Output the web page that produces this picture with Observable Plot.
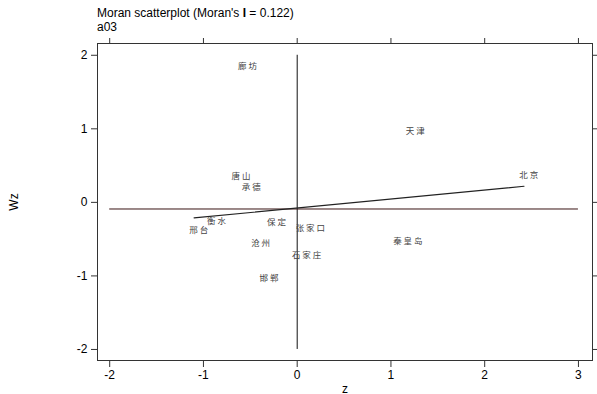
<!DOCTYPE html>
<html><head><meta charset="utf-8">
<script src="https://cdn.jsdelivr.net/npm/d3@7"></script>
<script src="https://cdn.jsdelivr.net/npm/@observablehq/plot@0.6"></script>
<style>
body{margin:0;background:#fff;}
#wrap{position:relative;width:597px;height:394px;font-family:"Liberation Sans",Arial,sans-serif;}
#title{position:absolute;left:97px;top:6px;font-size:12px;line-height:14px;color:#000;}
</style></head>
<body><div id="wrap"><div id="title">Moran scatterplot (Moran's <b>I</b> = 0.122)<br>a03</div></div>
<script>
const cities = ["廊坊","天津","北京","唐山","承德","衡水","邢台","保定","张家口","沧州","石家庄","邯郸","秦皇岛"];
const zVals  = [-0.53, 1.26, 2.47, -0.60, -0.49, -0.86, -1.05, -0.22, 0.14, -0.39, 0.10, -0.30, 1.18];
const wzVals = [1.85, 0.97, 0.37, 0.35, 0.21, -0.26, -0.38, -0.27, -0.35, -0.56, -0.72, -1.03, -0.53];
const moranI = 0.122;
const intercept = -0.077;
const meanWz = -0.09;
const lineX = [-1.10, 2.42];
const xTicks = [-2,-1,0,1,2,3];
const yTicks = [-2,-1,0,1,2];

const pts = cities.map((c,i)=>({name:c, z:zVals[i], wz:wzVals[i]}));
const reg = lineX.map(x=>({x, y: intercept + moranI*x}));

const chart = Plot.plot({
  width:597, height:394,
  marginLeft:97, marginRight:5, marginTop:43, marginBottom:34,
  style:{fontFamily:"'Liberation Sans', Arial, sans-serif", fontSize:"12px", color:"#000", background:"#fff"},
  x:{domain:[-2.13,3.15]},
  y:{domain:[-2.15,2.16]},
  marks:[
    Plot.frame({stroke:"#333"}),
    Plot.axisX({anchor:"bottom", ticks:xTicks, tickSize:7, tickPadding:3, tickFormat:d=>String(d), label:"z", labelAnchor:"center", labelArrow:"none", labelOffset:32, fontSize:12, stroke:"#333"}),
    Plot.axisX({anchor:"top", ticks:xTicks, tickSize:6, tickFormat:()=>"", label:null, stroke:"#333"}),
    Plot.axisY({anchor:"left", ticks:yTicks, tickSize:6, tickPadding:4, tickFormat:d=>String(d), label:"Wz", labelAnchor:"center", labelArrow:"none", labelOffset:88, fontSize:12, stroke:"#333"}),
    Plot.axisY({anchor:"right", ticks:yTicks, tickSize:6, tickFormat:()=>"", label:null, stroke:"#333"}),
    Plot.ruleX([0], {y1:-2, y2:2, stroke:"#111", strokeWidth:1}),
    Plot.ruleY([meanWz], {x1:-2, x2:3, stroke:"#3a1414", strokeWidth:1}),
    Plot.line(reg, {x:"x", y:"y", stroke:"#222", strokeWidth:1.1}),
    Plot.text(pts, {x:"z", y:"wz", text:d=>[...d.name].join(" "), fontFamily:"'Noto Sans CJK SC'", fontSize:8.5, fill:"#444"})
  ]
});
document.getElementById("wrap").appendChild(chart);
</script></body></html>
